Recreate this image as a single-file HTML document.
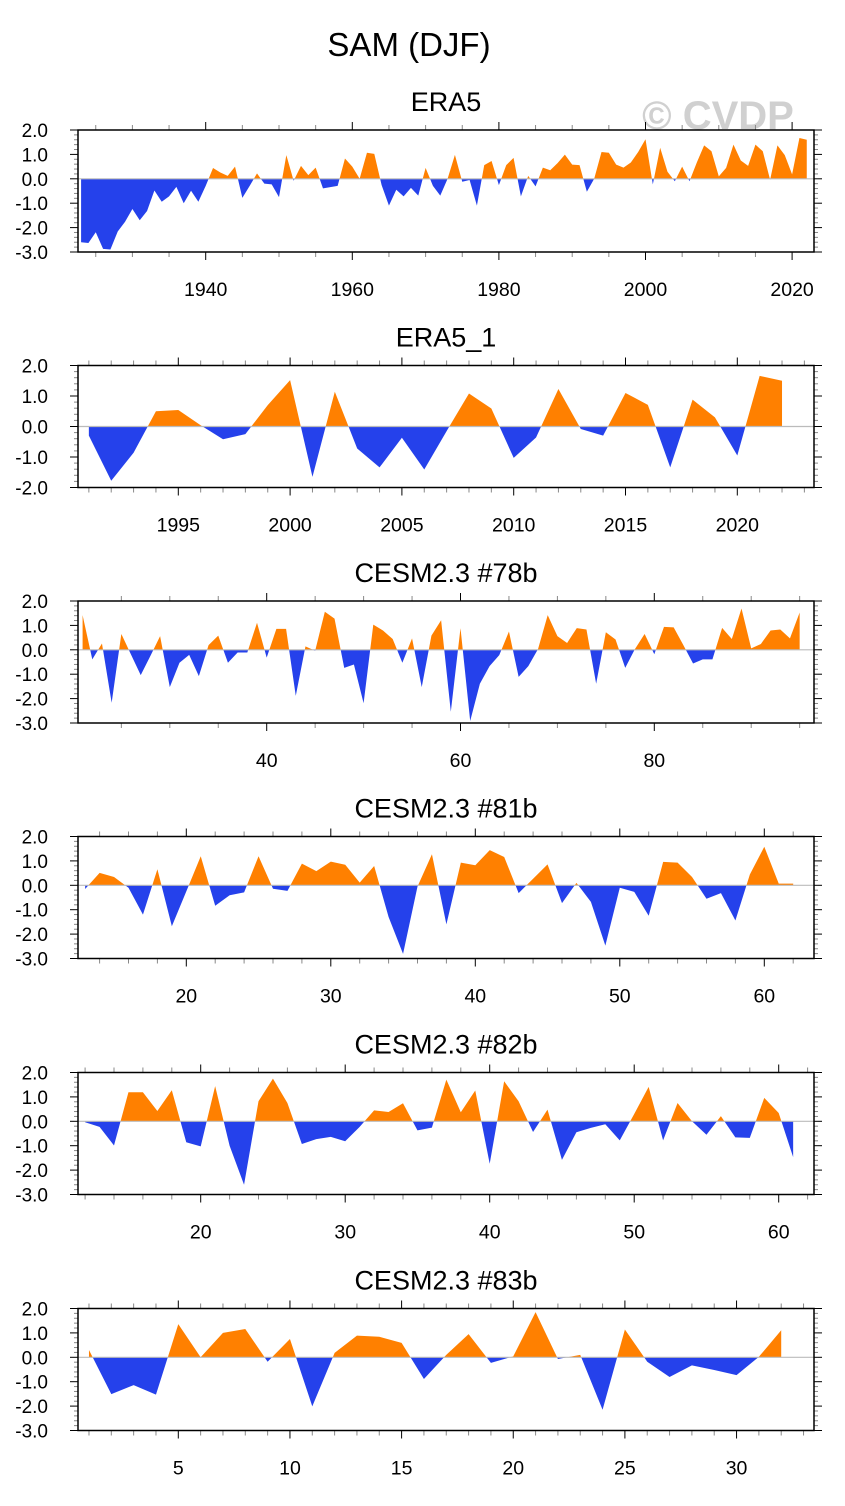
<!DOCTYPE html>
<html><head><meta charset="utf-8">
<style>
html,body{margin:0;padding:0;background:#fff;}
svg{display:block;font-family:"Liberation Sans",sans-serif;}
</style></head>
<body>
<svg id="chart" width="845" height="1506" viewBox="0 0 845 1506" xmlns="http://www.w3.org/2000/svg">
<text x="409" y="56" font-size="33" text-anchor="middle">SAM (DJF)</text>
<text x="718" y="129" font-size="40" font-weight="bold" fill="#d0d0d0" text-anchor="middle">© CVDP</text>
</svg>
<script>
// ---- data ----
const era5Start = 1923;
const era5Values = [-2.6,-2.63,-2.19,-2.87,-2.9,-2.16,-1.76,-1.24,-1.7,-1.32,-0.48,-0.94,-0.72,-0.33,-1.0,-0.49,-0.94,-0.29,0.44,0.26,0.12,0.5,-0.78,-0.29,0.22,-0.2,-0.23,-0.75,0.97,-0.08,0.53,0.15,0.46,-0.39,-0.34,-0.29,0.83,0.5,0.0,1.07,1.02,-0.26,-1.1,-0.45,-0.72,-0.37,-0.69,0.45,-0.29,-0.69,0.0,0.98,-0.12,-0.05,-1.1,0.56,0.73,-0.26,0.56,0.86,-0.72,0.12,-0.31,0.46,0.35,0.64,0.99,0.58,0.56,-0.53,0.0,1.1,1.07,0.58,0.46,0.67,1.1,1.62,-0.23,1.27,0.29,-0.1,0.5,-0.1,0.67,1.37,1.13,0.1,0.45,1.4,0.75,0.53,1.4,1.13,-0.04,1.37,0.97,0.18,1.67,1.6];
const era5bStart = 1991;
const era5bValues = [-0.3,-1.78,-0.86,0.5,0.54,0.04,-0.42,-0.25,0.7,1.52,-1.65,1.14,-0.72,-1.34,-0.37,-1.41,-0.15,1.08,0.59,-1.03,-0.36,1.23,-0.08,-0.3,1.1,0.71,-1.34,0.88,0.3,-0.95,1.66,1.5];
const c78Start = 21;
const c78Values = [1.42,-0.39,0.26,-2.17,0.65,-0.2,-1.04,-0.25,0.56,-1.53,-0.53,-0.21,-1.08,0.19,0.58,-0.53,-0.11,-0.11,1.11,-0.32,0.86,0.86,-1.89,0.14,-0.04,1.56,1.28,-0.74,-0.6,-2.19,1.03,0.79,0.44,-0.53,0.47,-1.53,0.58,1.21,-2.54,0.89,-2.92,-1.39,-0.67,-0.22,0.75,-1.11,-0.67,0.03,1.42,0.56,0.28,0.89,0.83,-1.39,0.72,0.42,-0.74,0.03,0.65,-0.18,0.94,0.92,0.19,-0.56,-0.39,-0.39,0.9,0.44,1.69,0.06,0.24,0.79,0.83,0.47,1.53];
const c81Start = 13;
const c81Values = [-0.15,0.51,0.34,-0.1,-1.2,0.66,-1.68,-0.25,1.19,-0.84,-0.41,-0.29,1.19,-0.14,-0.23,0.89,0.58,0.97,0.84,0.11,0.79,-1.3,-2.81,-0.05,1.27,-1.6,0.93,0.82,1.44,1.16,-0.32,0.27,0.86,-0.73,0.1,-0.68,-2.47,-0.1,-0.27,-1.25,0.96,0.93,0.34,-0.55,-0.32,-1.44,0.44,1.58,0.07,0.07];
const c82Start = 12;
const c82Values = [-0.04,-0.23,-0.99,1.19,1.19,0.42,1.27,-0.86,-1.03,1.44,-1.0,-2.6,0.82,1.75,0.75,-0.93,-0.73,-0.64,-0.82,-0.23,0.45,0.38,0.74,-0.37,-0.26,1.71,0.37,1.26,-1.74,1.64,0.82,-0.44,0.48,-1.58,-0.45,-0.27,-0.12,-0.78,0.3,1.41,-0.78,0.75,0.0,-0.55,0.21,-0.66,-0.68,0.96,0.34,-1.47];
const c83Start = 1;
const c83Values = [0.3,-1.51,-1.14,-1.53,1.36,0.0,1.0,1.16,-0.18,0.75,-2.01,0.18,0.89,0.84,0.59,-0.89,0.1,0.95,-0.23,0.04,1.85,-0.07,0.1,-2.15,1.14,-0.18,-0.81,-0.33,-0.52,-0.73,0.02,1.11];
const era5Ticks = [1940,1960,1980,2000,2020];
const era5bTicks = [1995,2000,2005,2010,2015,2020];
const c78Ticks = [40,60,80];
const c81Ticks = [20,30,40,50,60];
const c82Ticks = [20,30,40,50,60];
const c83Ticks = [5,10,15,20,25,30];

const NS = "http://www.w3.org/2000/svg";
const svg = document.getElementById('chart');
function mk(tag, attrs, parent){
  const e = document.createElementNS(NS, tag);
  for (const k in attrs) e.setAttribute(k, attrs[k]);
  (parent||svg).appendChild(e);
  return e;
}
const L = 78, R = 814;

const panels = [
 {name:'era5', title:'ERA5', top:130, bot:252, ymin:-3, ymax:2, x0:1940, px0:205.7, ppu:7.33, start:era5Start, vals:era5Values, ticks:era5Ticks, minor:5, xmin:1921, xmax:2024},
 {name:'era5-1', title:'ERA5_1', top:365.5, bot:487.5, ymin:-2, ymax:2, x0:1995, px0:178.3, ppu:22.36, start:era5bStart, vals:era5bValues, ticks:era5bTicks, minor:1, xmin:1990, xmax:2023},
 {name:'cesm-78b', title:'CESM2.3 #78b', top:601, bot:723, ymin:-3, ymax:2, x0:40, px0:266.7, ppu:9.69, start:c78Start, vals:c78Values, ticks:c78Ticks, minor:5, xmin:15, xmax:100},
 {name:'cesm-81b', title:'CESM2.3 #81b', top:836.5, bot:958.5, ymin:-3, ymax:2, x0:20, px0:186.3, ppu:14.45, start:c81Start, vals:c81Values, ticks:c81Ticks, minor:2, xmin:10, xmax:66},
 {name:'cesm-82b', title:'CESM2.3 #82b', top:1072.5, bot:1194.5, ymin:-3, ymax:2, x0:20, px0:200.7, ppu:14.45, start:c82Start, vals:c82Values, ticks:c82Ticks, minor:2, xmin:10, xmax:66},
 {name:'cesm-83b', title:'CESM2.3 #83b', top:1308.5, bot:1430.5, ymin:-3, ymax:2, x0:5, px0:178.3, ppu:22.33, start:c83Start, vals:c83Values, ticks:c83Ticks, minor:1, xmin:0, xmax:35}
];

panels.forEach((p, pi) => {
  const g = mk('g', {});
  
  
  const xs = v => p.px0 + (v - p.x0) * p.ppu;
  const ys = v => p.top + (p.ymax - v) / (p.ymax - p.ymin) * (p.bot - p.top);
  const y0 = ys(0);
  const t = mk('text', {x:446, y:p.top-19, 'font-size':27, 'text-anchor':'middle'}, g);
  
  
  t.textContent = p.title;
  const defs = mk('defs', {}, g);
  const cpU = mk('clipPath', {id:'cu'+pi}, defs);
  mk('rect', {x:L, y:p.top, width:R-L, height:y0-p.top}, cpU);
  const cpD = mk('clipPath', {id:'cd'+pi}, defs);
  mk('rect', {x:L, y:y0, width:R-L, height:p.bot-y0}, cpD);
  let pts = [];
  p.vals.forEach((v,i) => pts.push(xs(p.start+i).toFixed(2)+','+ys(v).toFixed(2)));
  const xa = xs(p.start), xb = xs(p.start + p.vals.length - 1);
  const poly = xa.toFixed(2)+','+y0.toFixed(2)+' '+pts.join(' ')+' '+xb.toFixed(2)+','+y0.toFixed(2);
  const up = mk('polygon', {points:poly, fill:'#ff8000', 'clip-path':'url(#cu'+pi+')'}, g);
  
  
  const dn = mk('polygon', {points:poly, fill:'#2541eb', 'clip-path':'url(#cd'+pi+')'}, g);
  
  
  const zl = mk('line', {x1:L, x2:R, y1:y0, y2:y0, stroke:'#bbb', 'stroke-width':1.2}, g);
  
  
  for (let k = Math.round(p.ymin*5); k <= Math.round(p.ymax*5); k++) {
    const v = k/5, y = ys(v), major = (k % 5 === 0);
    const len = major ? 8 : 4;
    mk('line', {x1:L-len, x2:L, y1:y, y2:y, stroke: major?'#000':'#888', 'stroke-width':1}, g);
    mk('line', {x1:R, x2:R+len, y1:y, y2:y, stroke: major?'#000':'#888', 'stroke-width':1}, g);
    if (major) {
      const lb = mk('text', {x:48, y:y+7, 'font-size':19, 'text-anchor':'end'}, g);
      
      
      lb.textContent = v.toFixed(1);
    }
  }
  for (let v = Math.ceil(p.xmin/p.minor)*p.minor; v <= p.xmax; v += p.minor) {
    const x = xs(v);
    if (x < L - 0.5 || x > R + 0.5) continue;
    const major = p.ticks.includes(v);
    const len = major ? 8 : 5;
    mk('line', {x1:x, x2:x, y1:p.bot, y2:p.bot+len, stroke: major?'#000':'#888', 'stroke-width':1}, g);
    mk('line', {x1:x, x2:x, y1:p.top-len, y2:p.top, stroke: major?'#000':'#888', 'stroke-width':1}, g);
  }
  p.ticks.forEach(v => {
    const lb = mk('text', {x:xs(v), y:p.bot+44, 'font-size':19.5, 'text-anchor':'middle'}, g);
    
    
    lb.textContent = v;
  });
  const box = mk('rect', {x:L, y:p.top, width:R-L, height:p.bot-p.top, fill:'none', stroke:'#000', 'stroke-width':1.5}, g);
  
  
});
</script>
</body></html>
